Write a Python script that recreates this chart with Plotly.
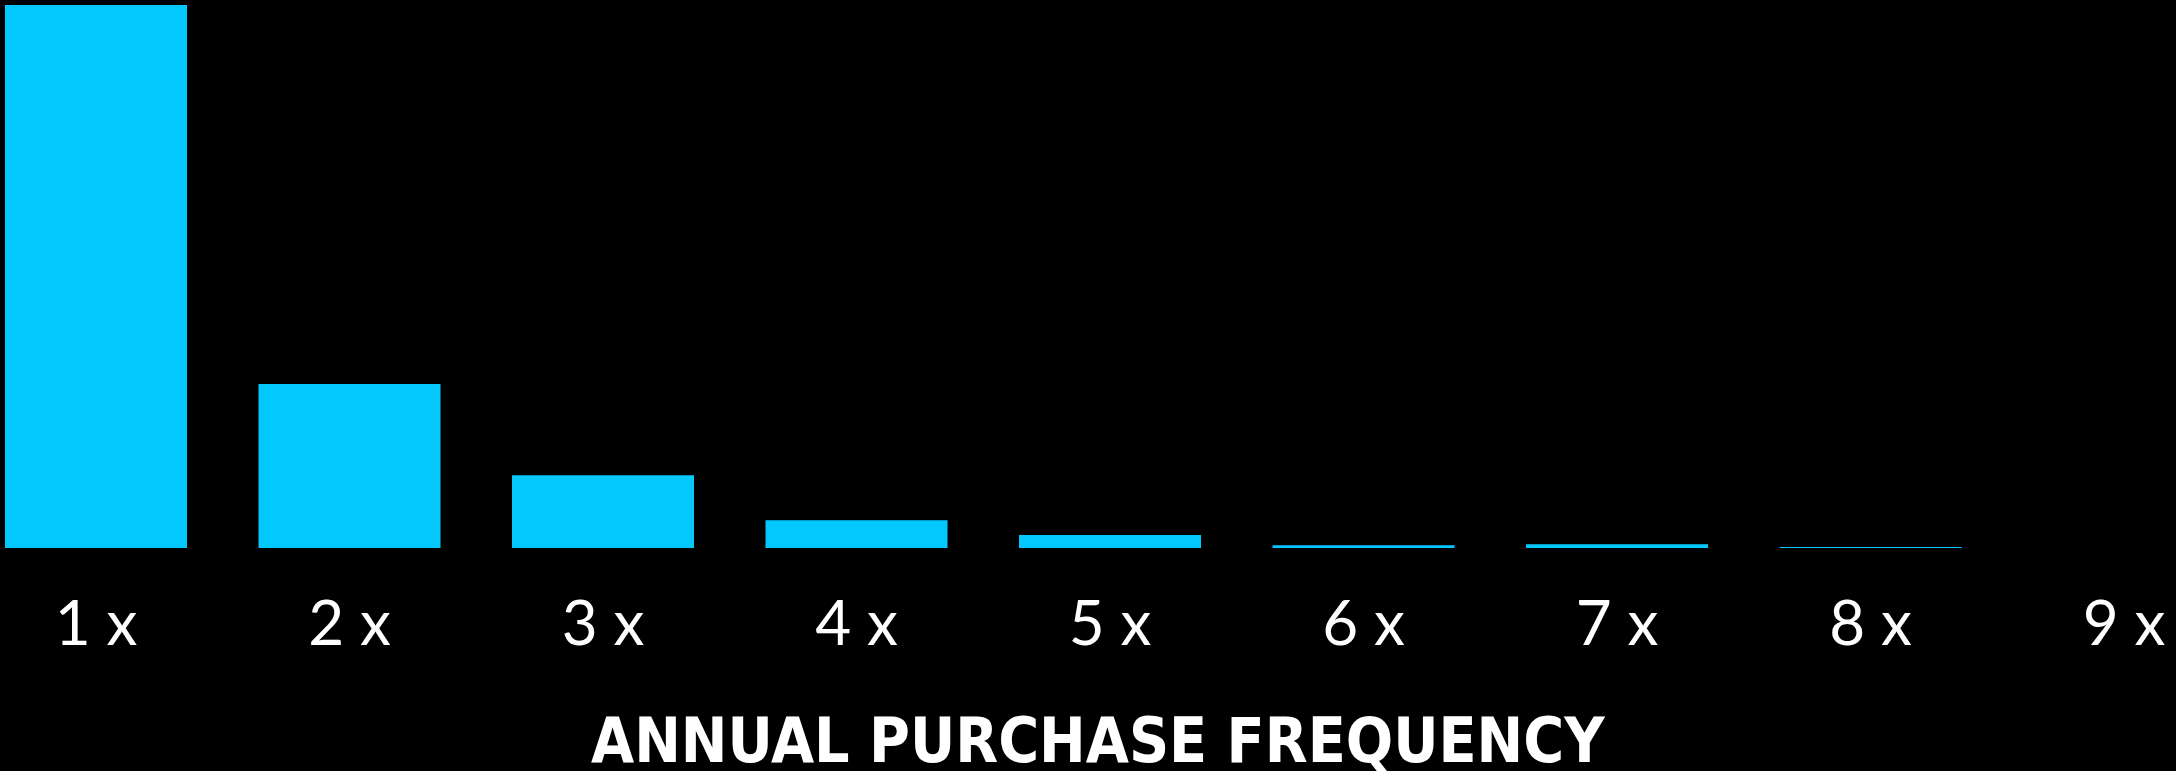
import plotly.graph_objects as go

# Share of customers by number of purchases per year (%)
frequency_labels = ["1 x", "2 x", "3 x", "4 x", "5 x", "6 x", "7 x", "8 x", "9 x"]
customer_share = [65.6, 19.8, 8.8, 3.35, 1.57, 0.33, 0.45, 0.08, 0.0]

axis_title = "ANNUAL PURCHASE FREQUENCY"

W, H = 2176, 771
TOP, BOTTOM = 5, 223
PLOT_H = H - TOP - BOTTOM

fig = go.Figure(
    go.Bar(
        x=frequency_labels,
        y=customer_share,
        marker=dict(color="#02C8FE", line=dict(width=0)),
        hoverinfo="x+y",
    )
)

fig.update_layout(
    width=W,
    height=H,
    margin=dict(l=0, r=0, t=TOP, b=BOTTOM, pad=0),
    paper_bgcolor="black",
    plot_bgcolor="black",
    bargap=0.282,
    showlegend=False,
    xaxis=dict(
        type="category",
        range=[-0.3787, 8.205],
        showgrid=False,
        zeroline=False,
        showline=False,
        ticks="",
        ticklabelstandoff=34,
        tickfont=dict(family="Lato", size=62, color="white"),
    ),
    yaxis=dict(
        range=[0, max(customer_share)],
        visible=False,
        showgrid=False,
        zeroline=False,
    ),
    annotations=[
        dict(
            text=axis_title,
            xref="paper",
            yref="paper",
            x=1098 / W,
            y=(H - BOTTOM - 740) / PLOT_H,
            xanchor="center",
            yanchor="middle",
            showarrow=False,
            font=dict(
                family="Liberation Sans Narrow, DejaVu Sans Condensed, Roboto Condensed, Liberation Sans, sans-serif",
                size=62,
                color="white",
                weight="bold",
            ),
        )
    ],
)

fig.write_html("out.html")
